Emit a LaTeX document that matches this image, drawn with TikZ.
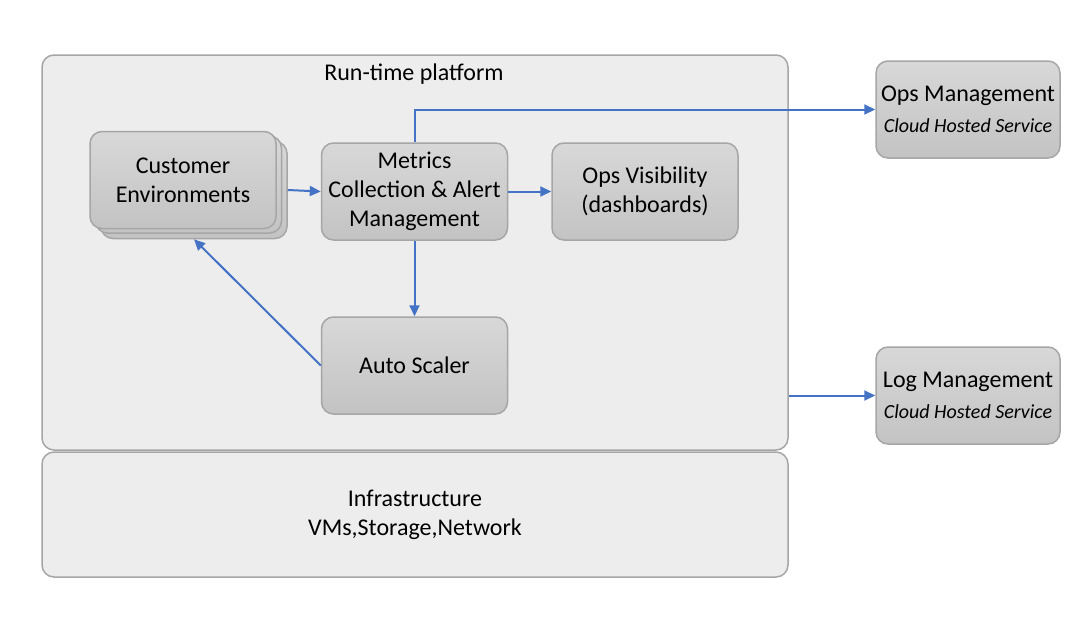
\documentclass[tikz,border=0pt]{standalone}
\usepackage{fontspec}
\setmainfont{Carlito}
\usetikzlibrary{arrows.meta}
\definecolor{edgegray}{HTML}{A6A6A6}
\definecolor{platfill}{HTML}{EDEDED}
\definecolor{boxtop}{HTML}{D8D8D8}
\definecolor{boxbot}{HTML}{C3C3C3}
\definecolor{flowblue}{HTML}{4472C4}
\newcommand{\svcnote}[1]{{\fontsize{10}{12}\selectfont\itshape #1}}
\tikzset{
  layer/.style={draw=edgegray, line width=.75pt, fill=platfill, rounded corners=6pt,
    minimum width=373pt, inner sep=0pt},
  comp/.style={draw=edgegray, line width=.75pt, rounded corners=6pt, top color=boxtop,
    bottom color=boxbot, minimum width=93pt, minimum height=48.5pt, inner sep=0pt,
    align=center, font=\fontsize{12}{14.5}\selectfont},
  flow/.style={draw=flowblue, line width=1pt, -{Triangle[length=5.5pt,width=5pt]}}
}
\begin{document}
\begin{tikzpicture}[x=.5pt, y=-.5pt]
    \useasboundingbox (0,0) rectangle (1086,616);
    \node[layer, minimum height=197.5pt] (rt) at (415,252.5){};
    \node[font=\fontsize{12}{14.5}\selectfont] (rttitle) at (414,74){Run-time platform};
    \node[layer, minimum height=62.5pt, align=center, font=\fontsize{12}{14.5}\selectfont] (infra) at (415,514.5){Infrastructure\\VMs,Storage,Network};

    \node[comp] (ceC) at (194,190){};
    \node[comp] (ceB) at (188.5,184.5){};
    \node[comp] (ce) at (183,180){Customer\\Environments};
    \node[comp] (mc) at (414.5,191.5){Metrics\\Collection \& Alert\\Management};
    \node[comp] (ov) at (645,191.5){Ops Visibility\\(dashboards)};
    \node[comp] (as) at (414.5,365.5){Auto Scaler};
    \node[comp, minimum width=92pt] (om) at (968,109.5){Ops Management\\[1pt]\svcnote{Cloud Hosted Service}};
    \node[comp, minimum width=92pt] (lm) at (968,395.5){Log Management\\[1pt]\svcnote{Cloud Hosted Service}};

    \coordinate (logout) at (rt.east |- lm.west);
    \draw[flow] (ceC.east) -- (mc.west);
    \draw[flow] (mc.east) -- (ov.west);
    \draw[flow] (mc.north) |- (om.west);
    \draw[flow] (mc.south) -- (as.north);
    \draw[flow] (as.west) -- (ceC.south);
    \draw[flow] (logout) -- (lm.west);
  \end{tikzpicture}
\end{document}
